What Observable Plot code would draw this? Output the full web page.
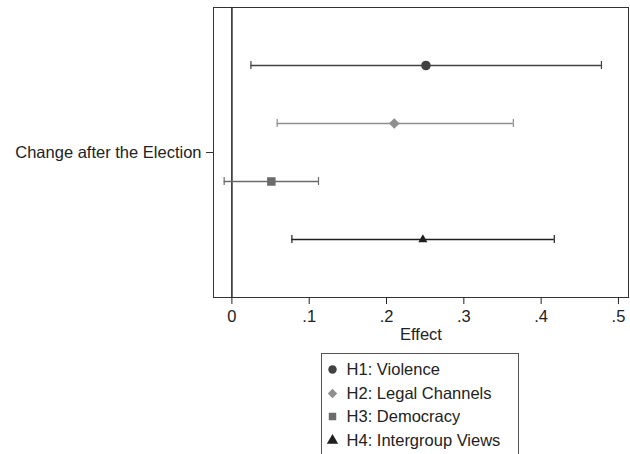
<!DOCTYPE html>
<html>
<head>
<meta charset="utf-8">
<script src="https://cdn.jsdelivr.net/npm/d3@7"></script>
<script src="https://cdn.jsdelivr.net/npm/@observablehq/plot@0.6"></script>
<style>
  html, body { margin: 0; padding: 0; background: #fff; }
  #chart { width: 630px; }
  #legendbox {
    margin-left: 321px; margin-top: 6px; width: 198px;
    border: 1px solid #555; padding: 4px 0 14px 3px; box-sizing: border-box;
  }
  .lg-swatches-columns .lg-swatch { height: 23.6px; padding-bottom: 0 !important; margin: 0 !important; }
  .lg-swatch svg { margin-right: 0.4em !important; }
</style>
</head>
<body>
<div id="chart"></div>
<script>
const series = ["H1: Violence", "H2: Legal Channels", "H3: Democracy", "H4: Intergroup Views"];
const estimates = [0.251, 0.210, 0.051, 0.247];
const lower = [0.0246, 0.0586, -0.010, 0.0776];
const upper = [0.478, 0.364, 0.112, 0.417];
const groupLabel = "Change after the Election";
const xTicks = [0, 0.1, 0.2, 0.3, 0.4, 0.5];
const colors = ["#414141", "#8e8e8e", "#6b6b6b", "#1f1f1f"];
const symbols = ["circle", "diamond2", "square", "triangle"];

const rows = series.map((s, i) => ({series: s, est: estimates[i], lo: lower[i], hi: upper[i], group: groupLabel}));

const font = "'Liberation Sans', Arial, Helvetica, sans-serif";

const plot = Plot.plot({
  width: 630,
  height: 347,
  marginTop: 7,
  marginLeft: 213,
  marginRight: 2,
  marginBottom: 50,
  style: {fontFamily: font, fontSize: "16.5px", color: "#222", background: "#fff"},
  x: {domain: [-0.0238, 0.513]},
  y: {type: "band", domain: series, paddingInner: 0.862, paddingOuter: 0.931, axis: null},
  fy: {domain: [groupLabel], padding: 0},
  color: {domain: series, range: colors},
  symbol: {domain: series, range: symbols},
  marks: [
    Plot.frame({stroke: "#333", strokeWidth: 1}),
    Plot.ruleX([0], {stroke: "#222", strokeWidth: 1.5}),
    Plot.ruleY(rows, {y: "series", x1: "lo", x2: "hi", fy: "group", stroke: "series", strokeWidth: 1.6}),
    Plot.tickX(rows, {x: "lo", y: "series", fy: "group", stroke: "series", strokeWidth: 1.2}),
    Plot.tickX(rows, {x: "hi", y: "series", fy: "group", stroke: "series", strokeWidth: 1.2}),
    Plot.dot(rows, {filter: d => d.series !== series[3], x: "est", y: "series", fy: "group", symbol: "series", fill: "series", r: 4.8}),
    Plot.dot(rows, {filter: d => d.series === series[3], x: "est", y: "series", fy: "group", symbol: "series", fill: "series", r: 3.4}),
    Plot.axisFy({anchor: "left", tickSize: 7, tickPadding: 5, label: null, stroke: "#333"}),
    Plot.axisX({ticks: xTicks, tickSize: 7, tickPadding: 6,
      tickFormat: d => d === 0 ? "0" : d3.format(".1f")(d).replace(/^0/, ""),
      label: "Effect", labelAnchor: "center", labelArrow: "none", labelOffset: 42})
  ]
});

const chart = document.getElementById("chart");
chart.appendChild(plot);

const box = document.createElement("div");
box.id = "legendbox";
let lg;
try {
  lg = plot.legend("symbol", {columns: 1, className: "lg", style: {fontFamily: font, fontSize: "16.5px", color: "#222"}});
} catch (e) { lg = null; }
if (lg) box.appendChild(lg);
chart.appendChild(box);
</script>
</body>
</html>
